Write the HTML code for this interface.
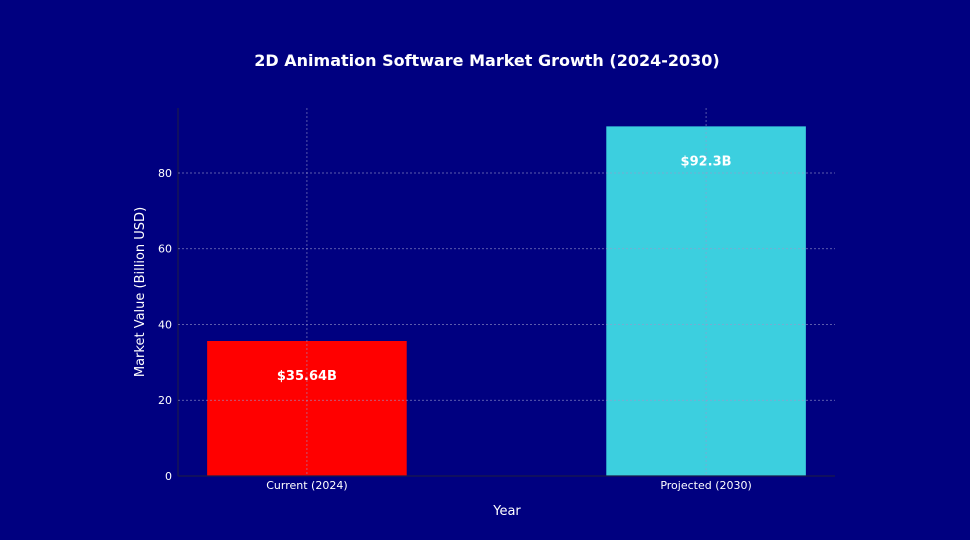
<!DOCTYPE html>
<html><head><meta charset="utf-8"><style>
html,body{margin:0;padding:0;background:#000080;}
svg{display:block;font-family:"DejaVu Sans","Liberation Sans",sans-serif;}
</style></head><body>
<svg id="chart" width="970" height="540" viewBox="0 0 970 540">
<rect width="970" height="540" fill="#000080"/>
<text x="487" y="66" text-anchor="middle" fill="#fff" font-size="16" font-weight="bold">2D Animation Software Market Growth (2024-2030)</text>
<g id="grid"></g><g id="bars"></g><g id="axes"></g><g id="labels"></g>
<text x="507" y="515" text-anchor="middle" fill="#fff" font-size="13">Year</text>
<text transform="translate(144,292) rotate(-90)" text-anchor="middle" fill="#fff" font-size="13">Market Value (Billion USD)</text>
</svg>
<script>
const categories = ["Current (2024)", "Projected (2030)"];
const values = [35.64, 92.3];
const valueLabels = ["$35.64B", "$92.3B"];
const yTicks = [0, 20, 40, 60, 80];
const colors = ["#ff0000", "#3ccfdf"];

const NS = "http://www.w3.org/2000/svg";
const L = 178, R = 835, T = 108, B = 476;
const yMax = 97.15;
function y(v){ return B - v / yMax * (B - T); }
function x(i){ const span = R - L; return L + (i + 0.323) / 1.646 * span; }
const bw = 0.5 * (x(1) - x(0));
function mk(tag, attrs, parent){ const e = document.createElementNS(NS, tag); for (const k in attrs) e.setAttribute(k, attrs[k]); parent.appendChild(e); return e; }
const grid = document.getElementById('grid'), bars = document.getElementById('bars'), axes = document.getElementById('axes'), labels = document.getElementById('labels');

values.forEach((v, i) => {
  const r = mk('rect', {x: x(i) - bw/2, y: y(v), width: bw, height: B - y(v), fill: colors[i]}, bars);
  
  
  const t = mk('text', {x: x(i), y: y(v - 9) + 5, 'text-anchor': 'middle', fill: '#fff', 'font-size': 13, 'font-weight': 'bold'}, labels);
  t.textContent = valueLabels[i];
  
  
  const xl = mk('text', {x: x(i), y: B + 13, 'text-anchor': 'middle', fill: '#fff', 'font-size': 11}, axes);
  xl.textContent = categories[i];
  
  
  const g = mk('line', {x1: x(i), x2: x(i), y1: T, y2: B, stroke: '#9999cc', 'stroke-width': 0.7, 'stroke-dasharray': '2,2', opacity: 0.8}, labels);
  
  
});
yTicks.forEach(v => {
  if (v > 0) {
    const g = mk('line', {x1: L, x2: R, y1: y(v), y2: y(v), stroke: '#9999cc', 'stroke-width': 0.7, 'stroke-dasharray': '2,2', opacity: 0.8}, labels);
    
    
  }
  const t = mk('text', {x: L - 6, y: y(v) + 4, 'text-anchor': 'end', fill: '#fff', 'font-size': 11}, axes);
  t.textContent = v;
  
  
});
const la = mk('line', {x1: L, x2: L, y1: T, y2: B, stroke: '#1a1a4a', 'stroke-width': 1.2}, axes);


const ba = mk('line', {x1: L, x2: R, y1: B, y2: B, stroke: '#1a1a4a', 'stroke-width': 1.2}, axes);


</script>
</body></html>
